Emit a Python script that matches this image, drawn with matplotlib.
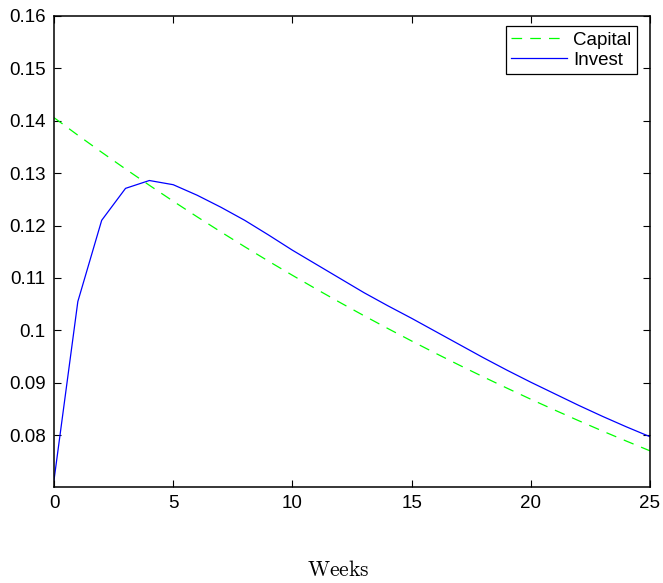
import matplotlib
matplotlib.use("Agg")
import matplotlib.pyplot as plt

weeks = list(range(26))
capital = [0.14060, 0.13725, 0.13399, 0.13080, 0.12769, 0.12465, 0.12168, 0.11879,
           0.11596, 0.11320, 0.11051, 0.10788, 0.10531, 0.10280, 0.10036, 0.09797,
           0.09564, 0.09336, 0.09114, 0.08897, 0.08685, 0.08479, 0.08277, 0.08080,
           0.07888, 0.07700]
invest = [0.0714, 0.1055, 0.1210, 0.1271, 0.1286, 0.1278, 0.1258, 0.1235, 0.1210,
          0.1182, 0.1153, 0.1126, 0.1099, 0.1072, 0.1047, 0.1023, 0.0998, 0.0973,
          0.0948, 0.0924, 0.0901, 0.0879, 0.0857, 0.0836, 0.0816, 0.0797]
xticks = [0, 5, 10, 15, 20, 25]
yticks = [0.08, 0.09, 0.10, 0.11, 0.12, 0.13, 0.14, 0.15, 0.16]
yticklabels = ["0.08", "0.09", "0.1", "0.11", "0.12", "0.13", "0.14", "0.15", "0.16"]

plt.rcParams['font.family'] = ['Liberation Sans', 'DejaVu Sans']
plt.rcParams['mathtext.fontset'] = 'cm'

fig = plt.figure(figsize=(6.63, 5.83), dpi=100)
ax = fig.add_axes([54/663, (583-487)/583, 596/663, 471/583])

ax.plot(weeks, capital, color=(0, 1, 0), linestyle=(0, (8.5, 6.5)), linewidth=0.9, label='Capital')
ax.plot(weeks, invest, color=(0, 0, 1), linestyle='-', linewidth=0.9, label='Invest')

ax.set_xlim(0, 25)
ax.set_ylim(0.0701, 0.16)
ax.set_xticks(xticks)
ax.set_xticklabels([str(t) for t in xticks])
ax.set_yticks(yticks)
ax.set_yticklabels(yticklabels)
ax.tick_params(direction='in', top=True, right=True, length=5, width=0.8,
               labelsize=13.5, pad=6)
for s in ax.spines.values():
    s.set_linewidth(1.1)

leg = ax.legend(loc='upper right', bbox_to_anchor=(0.978, 0.979), borderaxespad=0,
                fancybox=False, edgecolor='black', framealpha=1, fontsize=13.5,
                handlelength=3.0, handletextpad=0.3, borderpad=0.3, labelspacing=0.15)
leg.get_frame().set_linewidth(0.9)

fig.text(338/663, (583-570)/583, r'$\mathrm{Weeks}$', ha='center', va='center', fontsize=15.5)

fig.savefig('out.png', dpi=100)
